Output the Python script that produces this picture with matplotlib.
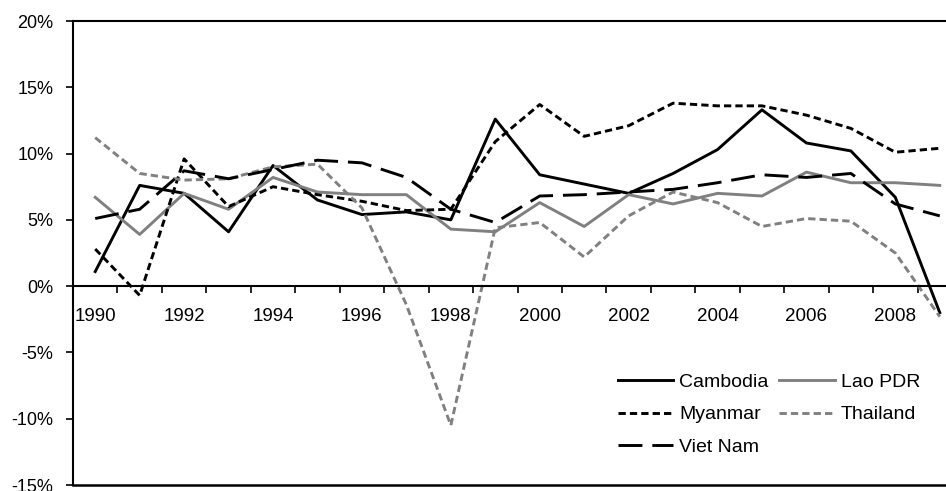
import matplotlib
matplotlib.use("Agg")
import matplotlib.pyplot as plt
from matplotlib.ticker import FixedLocator, FuncFormatter

plt.rcParams['font.family'] = ['Liberation Sans', 'DejaVu Sans']

years = list(range(1990, 2010))
cambodia = [1.1, 7.6, 7.0, 4.1, 9.1, 6.5, 5.4, 5.6, 5.0, 12.6, 8.4, 7.7, 7.0, 8.5, 10.3, 13.3, 10.8, 10.2, 6.7, -2.0]
lao_pdr = [6.7, 3.9, 7.0, 5.8, 8.2, 7.1, 6.9, 6.9, 4.3, 4.1, 6.3, 4.5, 6.9, 6.2, 7.0, 6.8, 8.6, 7.8, 7.8, 7.6]
myanmar = [2.8, -0.7, 9.6, 6.0, 7.5, 6.9, 6.4, 5.7, 5.8, 10.9, 13.7, 11.3, 12.1, 13.8, 13.6, 13.6, 12.9, 11.9, 10.1, 10.4]
thailand = [11.2, 8.5, 8.0, 8.1, 9.0, 9.2, 5.9, -1.4, -10.5, 4.4, 4.8, 2.2, 5.3, 7.1, 6.3, 4.5, 5.1, 4.9, 2.5, -2.3]
viet_nam = [5.1, 5.8, 8.7, 8.1, 8.8, 9.5, 9.3, 8.2, 5.8, 4.8, 6.8, 6.9, 7.1, 7.3, 7.8, 8.4, 8.2, 8.5, 6.2, 5.3]
y_ticks = [-15, -10, -5, 0, 5, 10, 15, 20]
x_labels = [1990, 1992, 1994, 1996, 1998, 2000, 2002, 2004, 2006, 2008]

W, H = 946, 491
fig = plt.figure(figsize=(W / 100, H / 100), dpi=100)
left, right, top, bottom = 73, 962, 21, 485
ax = fig.add_axes([left / W, (H - bottom) / H, (right - left) / W, (bottom - top) / H])

lw = 2.1
black = '#000000'
gray = '#808080'
l_cam, = ax.plot(years, cambodia, color=black, lw=lw, label='Cambodia')
l_lao, = ax.plot(years, lao_pdr, color=gray, lw=lw, label='Lao PDR')
l_mya, = ax.plot(years, myanmar, color=black, lw=lw, dashes=(2.5, 1.4), label='Myanmar')
l_tha, = ax.plot(years, thailand, color=gray, lw=lw, dashes=(2.5, 1.4), label='Thailand')
l_vie, = ax.plot(years, viet_nam, color=black, lw=lw, dashes=(8.2, 3.4), label='Viet Nam')

ax.set_xlim(1989.5, 2009.5)
ax.set_ylim(-15, 20)

# y axis
ax.yaxis.set_major_locator(FixedLocator(y_ticks))
ax.yaxis.set_major_formatter(FuncFormatter(lambda v, p: f"{int(v)}%"))
ax.tick_params(axis='y', direction='out', length=5, width=1.2, pad=9, labelsize=13)

# x axis at zero
ax.spines['bottom'].set_position(('data', 0))
ax.xaxis.set_major_locator(FixedLocator([y + 0.5 for y in years[:-1]]))
ax.xaxis.set_major_formatter(FuncFormatter(lambda v, p: ''))
ax.xaxis.set_minor_locator(FixedLocator(x_labels))
ax.xaxis.set_minor_formatter(FuncFormatter(lambda v, p: f"{int(round(v))}"))
ax.tick_params(axis='x', which='major', direction='out', length=5, width=1.2)
ax.tick_params(axis='x', which='minor', length=0, pad=16, labelsize=13.5)

for s in ['left', 'top', 'right', 'bottom']:
    ax.spines[s].set_linewidth(1.5)
ax.axhline(-15, color='black', lw=1.8, clip_on=False)

leg = ax.legend([l_cam, l_mya, l_vie, l_lao, l_tha],
                ['Cambodia', 'Myanmar', 'Viet Nam', 'Lao PDR', 'Thailand'],
                ncol=2, frameon=False, fontsize=14,
                loc='upper left', bbox_to_anchor=(618 / W, 1 - 373 / H),
                bbox_transform=fig.transFigure, borderpad=0, borderaxespad=0,
                handlelength=2.85, handletextpad=0.3, columnspacing=0.55,
                labelspacing=0.78)

fig.savefig('out.png', dpi=100)
